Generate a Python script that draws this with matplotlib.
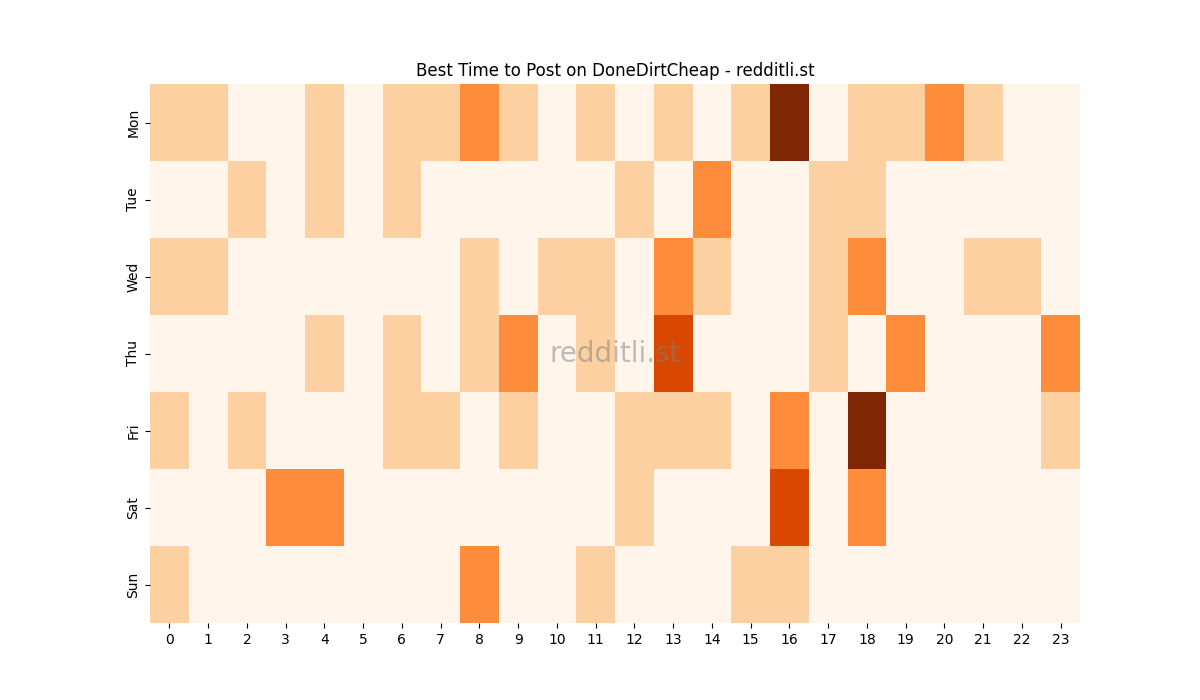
import numpy as np
import pandas as pd
import seaborn as sns
import matplotlib
matplotlib.use("Agg")
import matplotlib.pyplot as plt

days = ["Mon", "Tue", "Wed", "Thu", "Fri", "Sat", "Sun"]
hours = list(range(24))

mon = [1, 1, 0, 0, 1, 0, 1, 1, 2, 1, 0, 1, 0, 1, 0, 1, 4, 0, 1, 1, 2, 1, 0, 0]
tue = [0, 0, 1, 0, 1, 0, 1, 0, 0, 0, 0, 0, 1, 0, 2, 0, 0, 1, 1, 0, 0, 0, 0, 0]
wed = [1, 1, 0, 0, 0, 0, 0, 0, 1, 0, 1, 1, 0, 2, 1, 0, 0, 1, 2, 0, 0, 1, 1, 0]
thu = [0, 0, 0, 0, 1, 0, 1, 0, 1, 2, 0, 1, 0, 3, 0, 0, 0, 1, 0, 2, 0, 0, 0, 2]
fri = [1, 0, 1, 0, 0, 0, 1, 1, 0, 1, 0, 0, 1, 1, 1, 0, 2, 0, 4, 0, 0, 0, 0, 1]
sat = [0, 0, 0, 2, 2, 0, 0, 0, 0, 0, 0, 0, 1, 0, 0, 0, 3, 0, 2, 0, 0, 0, 0, 0]
sun = [1, 0, 0, 0, 0, 0, 0, 0, 2, 0, 0, 1, 0, 0, 0, 1, 1, 0, 0, 0, 0, 0, 0, 0]

df = pd.DataFrame([mon, tue, wed, thu, fri, sat, sun], index=days, columns=hours)

fig, ax = plt.subplots(figsize=(12, 7), dpi=100)
sns.heatmap(df, cmap="Oranges", cbar=False, ax=ax)
ax.set_yticklabels(days, rotation=90, va="center")
ax.set_xticklabels(hours, rotation=0)
ax.set_title("Best Time to Post on DoneDirtCheap - redditli.st")
ax.text(0.5, 0.5, "redditli.st", transform=ax.transAxes, ha="center", va="center",
        fontsize=20, color="gray", alpha=0.5)

plt.savefig("out.png")
